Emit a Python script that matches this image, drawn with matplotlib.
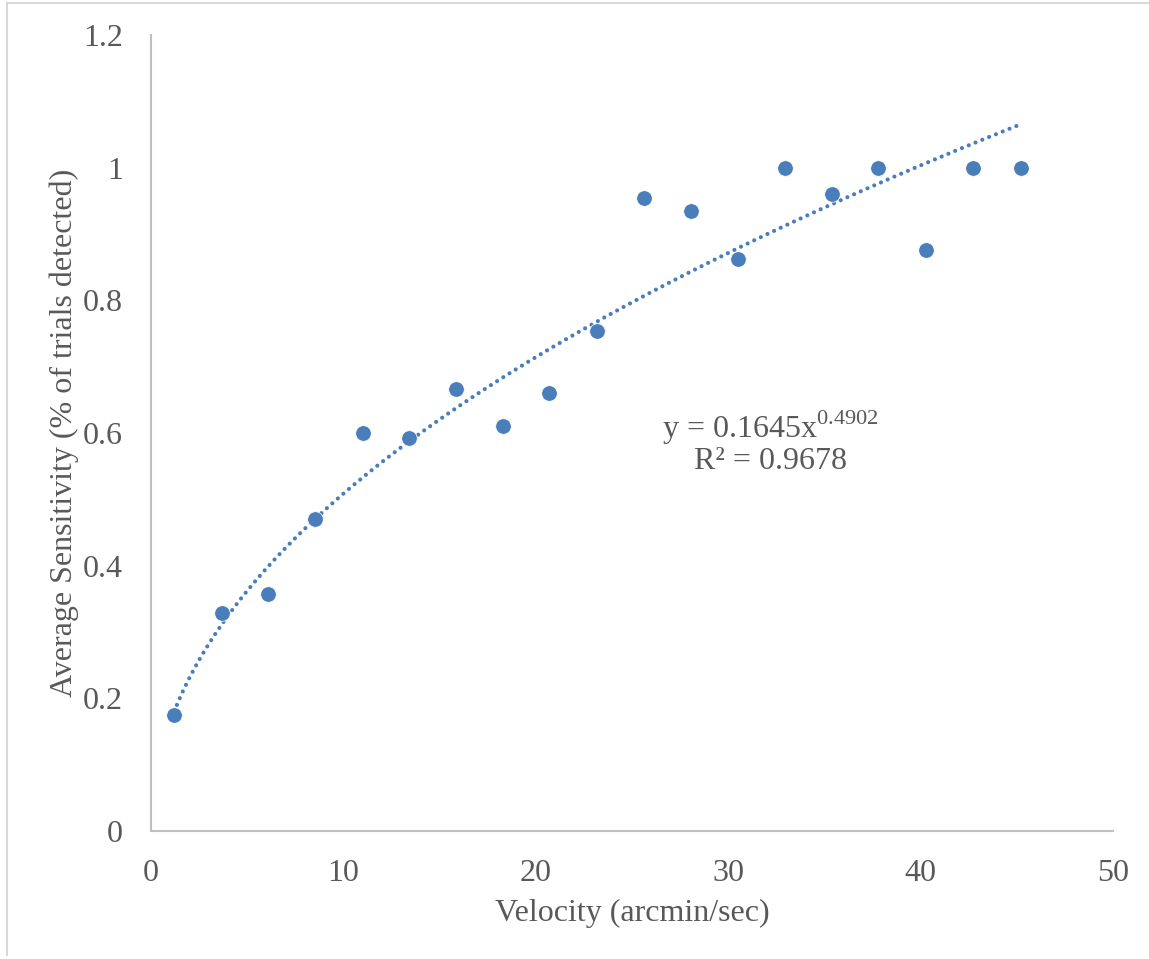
import matplotlib
matplotlib.use("Agg")
import matplotlib.pyplot as plt
import numpy as np
from matplotlib.lines import Line2D

velocity = [1.2, 3.7, 6.1, 8.5, 11.0, 13.4, 15.85, 18.3, 20.7, 23.2, 25.6, 28.05, 30.5, 32.95, 35.4, 37.8, 40.3, 42.7, 45.2]
sensitivity = [0.175, 0.329, 0.357, 0.470, 0.600, 0.592, 0.666, 0.611, 0.660, 0.754, 0.954, 0.935, 0.862, 1.0, 0.960, 1.0, 0.876, 1.0, 1.0]
coef_a = 0.1645
coef_b = 0.4902
x_ticks = [0, 10, 20, 30, 40, 50]
y_ticks = [0, 0.2, 0.4, 0.6, 0.8, 1.0, 1.2]
y_tick_labels = ["0", "0.2", "0.4", "0.6", "0.8", "1", "1.2"]

plt.rcParams['font.family'] = ['Liberation Serif', 'DejaVu Serif']
txt = '#595959'
blue = '#4a7ebb'
fs = 23

fig = plt.figure(figsize=(11.49, 9.59), dpi=100)
ax = fig.add_axes([151/1149, 1-831/959, (1113-151)/1149, (831-35)/959])

xt = np.linspace(min(velocity), max(velocity), 400)
ax.plot(xt, coef_a * xt**coef_b, linestyle=(0, (0.01, 1.75)), color=blue, lw=3.0,
        dash_capstyle='round', zorder=2)
ax.scatter(velocity, sensitivity, s=125, color=blue, edgecolors='white', linewidths=0.5, zorder=3)

ax.set_xlim(0, 50)
ax.set_ylim(0, 1.2)
ax.set_xticks(x_ticks)
ax.set_yticks(y_ticks)
ax.set_yticklabels(y_tick_labels)
ax.tick_params(length=0, labelsize=fs, labelcolor=txt)
ax.tick_params(axis='y', pad=20)
ax.tick_params(axis='x', pad=20)
for s in ['top', 'right']:
    ax.spines[s].set_visible(False)
for s in ['left', 'bottom']:
    ax.spines[s].set_color('#bfbfbf')
    ax.spines[s].set_linewidth(1.5)

ax.set_xlabel('Velocity (arcmin/sec)', fontsize=fs, color=txt, labelpad=8)
ax.set_ylabel('Average Sensitivity (% of trials detected)', fontsize=fs, color=txt, labelpad=3)

ax.text(32.2, 0.535, 'y = 0.1645x$^{\\mathregular{0.4902}}$\nR² = 0.9678', fontsize=fs, color=txt,
        ha='center', va='bottom', linespacing=1.0)

fig.add_artist(Line2D([7/1149, 7/1149], [1-3/959, 1-955/959], color='#d9d9d9', lw=1.5, transform=fig.transFigure))
fig.add_artist(Line2D([7/1149, 1.0], [1-3/959, 1-3/959], color='#d9d9d9', lw=1.5, transform=fig.transFigure))

fig.savefig('out.png', dpi=100, facecolor='white')
